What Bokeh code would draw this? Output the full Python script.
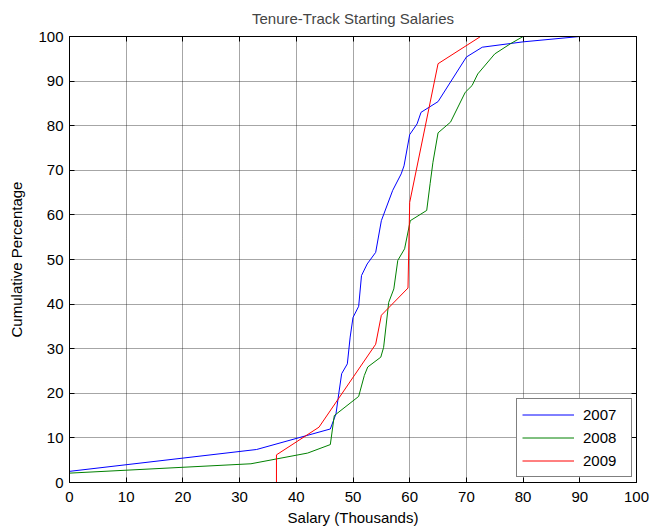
from bokeh.plotting import figure
from bokeh.models import (LinearAxis, FixedTicker, Legend, LegendItem, Range1d,
                          CustomLabelingPolicy)
from bokeh.embed import file_html
from bokeh.resources import INLINE

# Empirical cumulative distributions of starting salaries (thousands of dollars)
sal_2007 = [0, 33, 46, 47, 47.5, 48, 49, 49.5, 50, 51, 51.5, 52.5, 54, 55, 57,
            58.5, 59, 60, 61.3, 62, 65, 70, 72.8, 80, 90]
pct_2007 = [2.5, 7.4, 12, 15.4, 20, 24.4, 26.6, 32.6, 37, 39.5, 46.4, 49, 51.6,
            58.7, 65.5, 69.2, 71, 78, 80.4, 83, 85.4, 95.4, 97.6, 98.8, 100]

sal_2008 = [0, 32, 42, 46, 46.7, 51, 52, 52.6, 54.9, 55.4, 56.3, 57.2, 57.9,
            59.1, 60.1, 63, 63.6, 64.1, 65, 67.2, 69.8, 71, 72, 75, 77.8, 80]
pct_2008 = [2.1, 4.2, 6.6, 8.5, 15, 19.3, 24, 25.9, 28.1, 30.3, 40.4, 43.4,
            49.8, 52.4, 58.7, 61, 67, 71.8, 78.4, 80.8, 87.5, 89, 91.6, 96.1,
            98.4, 100]

sal_2009 = [36.5, 36.5, 44, 54, 55, 59.7, 60, 65, 72.5]
pct_2009 = [0, 6.2, 12.4, 31, 37.5, 43.6, 62.8, 93.9, 100]

ticks = [0, 10, 20, 30, 40, 50, 60, 70, 80, 90, 100]

FONT = "Liberation Sans"
FS = "15px"

p = figure(width=651, height=529, output_backend="svg", toolbar_location=None,
           x_range=Range1d(0, 100), y_range=Range1d(0, 100),
           min_border_left=69, min_border_right=15, min_border_top=36,
           min_border_bottom=47, background_fill_color="white",
           border_fill_color="white")

p.title.text = "Tenure-Track Starting Salaries"
p.title.align = "center"
p.title.text_font = FONT
p.title.text_font_size = FS
p.title.text_font_style = "normal"
p.title.standoff = 12

p.outline_line_color = "black"
p.outline_line_width = 1

# tick marks only, no labels, for the box's top and right edges
no_labels = CustomLabelingPolicy(code="""
    for (let i = 0; i < indices.size; i++) indices.unset(i)
    return indices
""")

def style_axis(ax, show_labels=True):
    ax.ticker = FixedTicker(ticks=ticks)
    ax.major_tick_in = 5
    ax.major_tick_out = 0
    ax.minor_tick_in = 0
    ax.minor_tick_out = 0
    ax.axis_line_color = "black"
    ax.major_tick_line_color = "black"
    ax.major_label_text_font = FONT
    ax.major_label_text_color = "black"
    if show_labels:
        ax.major_label_text_font_size = FS
        ax.major_label_standoff = 6
        ax.axis_label_text_font = FONT
        ax.axis_label_text_font_size = FS
        ax.axis_label_text_font_style = "normal"
        ax.axis_label_text_color = "black"
        ax.axis_label_standoff = 4
    else:
        ax.major_label_text_font_size = "1px"
        ax.major_label_policy = no_labels
        ax.major_label_standoff = 0

style_axis(p.xaxis[0])
style_axis(p.yaxis[0])
p.xaxis[0].axis_label = "Salary (Thousands)"
p.yaxis[0].axis_label = "Cumulative Percentage"
p.xaxis[0].major_label_standoff = 9
p.xaxis[0].axis_label_standoff = 4
p.yaxis[0].axis_label_standoff = 10

top_axis = LinearAxis()
right_axis = LinearAxis()
style_axis(top_axis, show_labels=False)
style_axis(right_axis, show_labels=False)
p.add_layout(top_axis, "above")
p.add_layout(right_axis, "right")

for g in (p.xgrid[0], p.ygrid[0]):
    g.ticker = FixedTicker(ticks=ticks)
    g.grid_line_color = "#111111"
    g.grid_line_alpha = 0.75
    g.grid_line_dash = "1 1"
    g.grid_line_width = 1

r07 = p.line(sal_2007, pct_2007, line_color="#0000FF", line_width=1)
r08 = p.line(sal_2008, pct_2008, line_color="#008000", line_width=1)
r09 = p.line(sal_2009, pct_2009, line_color="#FF0000", line_width=1)

legend = Legend(items=[LegendItem(label="2007", renderers=[r07]),
                       LegendItem(label="2008", renderers=[r08]),
                       LegendItem(label="2009", renderers=[r09])],
                location=(447, 5))
legend.label_text_font = FONT
legend.label_text_font_size = FS
legend.label_text_color = "black"
legend.glyph_width = 52
legend.glyph_height = 21
legend.label_height = 21
legend.label_width = 43
legend.label_standoff = 9
legend.spacing = 2
legend.padding = 5
legend.margin = 0
legend.border_line_color = "black"
legend.border_line_width = 1
legend.background_fill_color = "white"
legend.background_fill_alpha = 1
p.add_layout(legend, "center")

open("out.html", "w").write(file_html(p, INLINE))
